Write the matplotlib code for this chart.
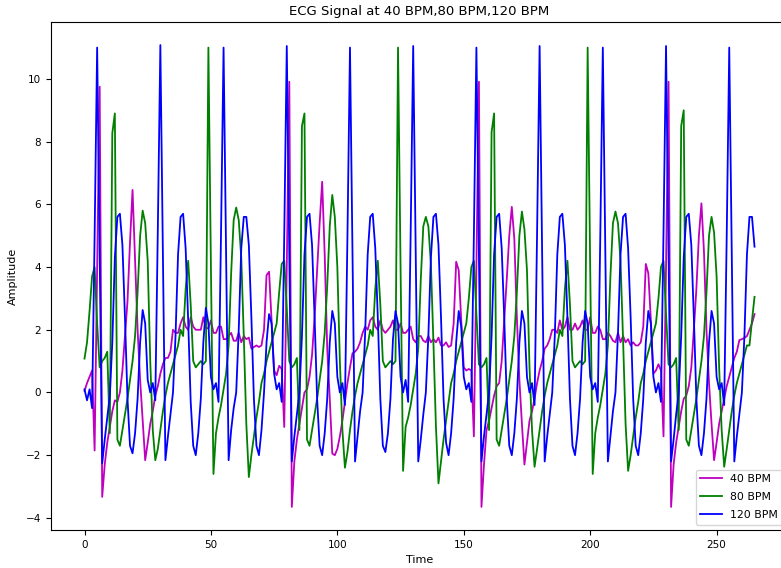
import matplotlib
matplotlib.use("Agg")
import matplotlib.pyplot as plt
import numpy as np

# ---------------------------------------------------------------------------- #
# DATA (one sample per time step)

labels = ["40 BPM", "80 BPM", "120 BPM"]

ecg_40 = [
    0.05, 0.3, 0.5, 0.7, -1.85, 4.0,
    # beat at t=6
    9.75, -3.33, -2.3, -1.6, -1.1, -0.6, -0.25, -0.3, 0.0, 0.7,
    1.8, 2.9, 4.8, 6.46, 4.2, 2.0, 0.4, -0.9, -2.16, -1.6,
    -1.0, -0.6, -0.1, 0.2, 0.6, 0.9, 1.1, 1.1, 1.3, 2.0,
    1.9, 1.9, 2.2, 2.4, 2.1, 2.0, 2.4, 2.1, 2.0, 2.0,
    2.0, 2.4, 2.05, 2.05, 2.3, 1.9, 1.9, 2.1, 2.1, 1.7,
    1.7, 1.8, 1.9, 1.65, 1.65, 1.9, 1.6, 1.8, 1.7, 1.75,
    1.4, 1.45, 1.5, 1.45, 1.5,
    2.0, 3.74, 3.85, 2.3, 0.7, 0.55, 0.85, 0.75, -1.1, 4.0,
    # beat at t=81
    9.91, -3.65, -2.2, -1.5, -1.0, -0.5, 0.0, 0.1, 0.5, 1.2,
    2.4, 3.9, 5.4, 6.72, 4.4, 1.4, -0.2, -1.95, -2.0, -1.8,
    -1.4, -0.9, -0.3, 0.3, 0.8, 1.25, 1.3, 1.4, 1.6, 1.9,
    2.1, 2.0, 2.3, 2.4, 2.1, 2.0, 2.3, 2.0, 1.9, 2.0,
    2.1, 2.3, 2.0, 2.0, 2.2, 1.9, 1.9, 2.0, 2.1, 1.7,
    1.6, 1.8, 1.8, 1.65, 1.6, 1.8, 1.6, 1.7, 1.6, 1.75,
    1.5, 1.5, 1.6, 1.45, 1.5,
    2.2, 4.17, 3.9, 2.3, 0.8, 0.7, 0.75, 0.7, -1.4, 4.0,
    # beat at t=156
    9.91, -3.65, -2.3, -1.2, -0.9, -0.5, -0.1, 0.2, 0.3, 1.0,
    2.3, 3.6, 5.0, 5.92, 4.9, 2.4, 0.4, -1.0, -2.3, -1.6,
    -0.9, -0.6, -0.2, 0.3, 0.7, 1.0, 1.4, 1.5, 1.7, 2.0,
    2.0, 1.9, 2.3, 2.0, 2.1, 2.4, 2.0, 2.0, 2.2, 2.0,
    2.1, 2.3, 2.0, 2.0, 2.4, 1.9, 1.9, 2.1, 2.0, 1.7,
    1.7, 1.9, 1.8, 1.65, 1.6, 1.9, 1.6, 1.8, 1.6, 1.7,
    1.5, 1.6, 1.5, 1.5, 1.6,
    2.1, 4.1, 3.8, 2.3, 0.6, 0.7, 0.9, 0.7, -1.4, 4.0,
    # beat at t=231
    9.91, -3.65, -2.3, -1.6, -1.1, -0.6, -0.2, -0.1, 0.2, 0.8,
    2.0, 3.3, 5.0, 6.03, 4.5, 2.0, 0.3, -1.0, -2.16, -1.6,
    -1.0, -0.6, -0.2, 0.2, 0.5, 0.8, 1.1, 1.3, 1.67, 1.7,
    1.74, 1.8, 2.0, 2.2, 2.5,
]

ecg_80 = [
    # beat at t=11.5
    1.08, 1.6, 2.6, 3.7, 4.0, 2.2, 0.8, 1.0, 1.1, 1.3,
    -1.3, 8.27, 8.9, -1.5, -1.7, -1.2, -0.7, -0.2, 0.4, 1.0,
    1.8, 3.2, 5.0, 5.8, 5.4, 4.2, 1.0, -1.2, -2.16, -1.8,
    -1.2, -0.6, -0.1, 0.3, 0.6, 0.9, 1.2, 1.5,
    # beat at t=49
    2.0, 1.8, 3.3, 4.2, 2.8, 1.0, 0.8, 0.9, 1.0, 0.9,
    1.0, 11.0, 4.0, -2.6, -1.3, -0.8, -0.4, 0.1, 0.6, 1.5,
    3.8, 5.5, 5.9, 5.5, 4.3, 1.8, -1.0, -2.7, -2.0, -1.4,
    -0.8, -0.3, 0.3, 0.6, 1.0, 1.3, 1.6,
    # beat at t=86.5
    1.9, 2.2, 3.2, 4.1, 4.2, 2.7, 1.0, 0.8, 0.9, 1.1,
    -1.2, 8.5, 8.9, -1.5, -1.7, -1.2, -0.7, -0.2, 0.4, 1.0,
    1.9, 3.4, 5.3, 6.3, 5.6, 4.0, 1.0, -1.2, -2.4, -1.9,
    -1.2, -0.6, -0.1, 0.3, 0.6, 0.9, 1.2, 1.5,
    # beat at t=124
    2.0, 1.8, 3.3, 4.2, 2.8, 1.0, 0.8, 0.9, 1.0, 0.9,
    1.0, 11.0, 4.0, -2.5, -1.1, -0.8, -0.4, 0.1, 0.6, 1.4,
    3.6, 5.3, 5.6, 5.3, 4.1, 1.6, -1.1, -2.9, -2.2, -1.5,
    -0.9, -0.3, 0.3, 0.6, 1.0, 1.3, 1.6,
    # beat at t=161.5
    1.9, 2.2, 3.0, 4.0, 4.2, 2.5, 0.9, 0.8, 0.9, 1.1,
    -1.2, 8.3, 8.9, -1.5, -1.7, -1.2, -0.7, -0.2, 0.4, 1.0,
    1.8, 3.2, 5.0, 5.77, 5.2, 3.9, 0.8, -1.2, -2.37, -1.8,
    -1.2, -0.6, -0.1, 0.3, 0.6, 0.9, 1.2, 1.5,
    # beat at t=199
    2.0, 1.8, 3.3, 4.2, 2.8, 1.0, 0.8, 0.9, 1.0, 0.9,
    1.0, 11.0, 4.0, -2.6, -1.3, -0.8, -0.4, 0.1, 0.6, 1.5,
    3.7, 5.4, 5.77, 5.4, 4.2, 1.7, -1.0, -2.5, -2.0, -1.4,
    -0.8, -0.3, 0.3, 0.6, 1.0, 1.3, 1.6,
    # beat at t=236.5
    1.9, 2.2, 3.0, 4.0, 4.2, 2.5, 0.9, 0.8, 0.9, 1.1,
    -1.2, 8.5, 9.0, -1.5, -1.7, -1.2, -0.7, -0.2, 0.4, 1.0,
    1.8, 3.2, 5.0, 5.6, 5.1, 3.7, 0.8, -1.2, -2.37, -1.8,
    -1.2, -0.6, -0.1, 0.3, 0.6, 0.9, 1.2, 1.5,
    1.5, 2.3, 3.05,
]

ecg_120 = [
    0.1, -0.25, 0.1, -0.5, 5.0,
    11.0, 4.4, -2.26, -1.5, -0.8, -0.1, 1.6, 4.3, 5.6, 5.7, 4.7, 2.4, -0.2, -1.7, -1.94, -1.3, -0.2, 1.6, 2.63, 2.2, 0.4, 0.0, 0.3, -0.25, 5.2,
    11.08, 4.4, -2.16, -1.4, -0.7, 0.0, 1.8, 4.4, 5.6, 5.7, 4.6, 2.3, -0.3, -1.7, -2.0, -1.3, -0.2, 1.6, 2.7, 2.2, 0.5, 0.1, 0.3, -0.3, 5.1,
    11.0, 4.5, -2.16, -1.2, -0.5, 0.0, 2.0, 4.6, 5.6, 5.6, 4.7, 2.4, -0.2, -1.7, -2.0, -1.2, 0.0, 1.6, 2.5, 2.2, 0.6, 0.1, 0.3, -0.3, 5.0,
    11.05, 4.4, -2.2, -1.4, -0.7, 0.0, 1.8, 4.4, 5.6, 5.7, 4.7, 2.4, -0.2, -1.7, -2.0, -1.3, -0.2, 1.6, 2.6, 2.2, 0.5, 0.0, 0.3, -0.4, 5.0,
    11.0, 4.5, -2.2, -1.4, -0.6, 0.0, 1.9, 4.4, 5.6, 5.7, 4.6, 2.4, -0.2, -1.7, -1.9, -1.3, -0.2, 1.7, 2.6, 2.2, 0.5, 0.0, 0.4, -0.3, 5.1,
    11.05, 4.4, -2.2, -1.5, -0.7, 0.0, 1.8, 4.3, 5.6, 5.7, 4.7, 2.4, -0.2, -1.6, -2.0, -1.3, -0.2, 1.6, 2.6, 2.1, 0.5, 0.1, 0.3, -0.3, 5.0,
    11.0, 4.5, -2.2, -1.4, -0.7, 0.0, 1.8, 4.4, 5.6, 5.7, 4.6, 2.4, -0.2, -1.7, -2.0, -1.3, -0.2, 1.6, 2.6, 2.2, 0.5, 0.0, 0.3, -0.4, 5.1,
    11.05, 4.4, -2.2, -1.4, -0.7, 0.0, 1.8, 4.4, 5.6, 5.7, 4.7, 2.4, -0.2, -1.7, -2.0, -1.3, -0.2, 1.6, 2.6, 2.2, 0.5, 0.1, 0.3, -0.3, 5.0,
    11.0, 4.5, -2.2, -1.4, -0.6, 0.0, 1.9, 4.4, 5.6, 5.7, 4.6, 2.4, -0.2, -1.7, -2.0, -1.3, -0.2, 1.6, 2.6, 2.2, 0.5, 0.0, 0.3, -0.3, 5.1,
    11.05, 4.4, -2.2, -1.5, -0.7, 0.0, 1.8, 4.3, 5.6, 5.7, 4.7, 2.4, -0.2, -1.7, -2.0, -1.3, -0.2, 1.6, 2.6, 2.2, 0.5, 0.1, 0.3, -0.4, 5.0,
    11.0, 4.4, -2.2, -1.4, -0.7, 0.0, 1.8, 4.4, 5.6, 5.6, 4.65,
]

colors = ["m", "g", "b"]

# ---------------------------------------------------------------------------- #
# PLOT

fig = plt.figure(figsize=(7.81, 5.68), dpi=100)
ax = fig.add_axes([0.0653, 0.0669, 0.9437, 0.8944])

for series, label, color in zip([ecg_40, ecg_80, ecg_120], labels, colors):
    ax.plot(np.arange(len(series)), series, color=color, linewidth=1.3, label=label)

ax.set_title("ECG Signal at 40 BPM,80 BPM,120 BPM", fontsize=9.5, pad=5)
ax.set_xlabel("Time", fontsize=8)
ax.set_ylabel("Amplitude", fontsize=8, labelpad=6)
ax.tick_params(labelsize=7.5)
ax.legend(loc="lower right", fontsize=7.8, labelspacing=0.75)

fig.savefig("out.png", dpi=100)

# end of file #
